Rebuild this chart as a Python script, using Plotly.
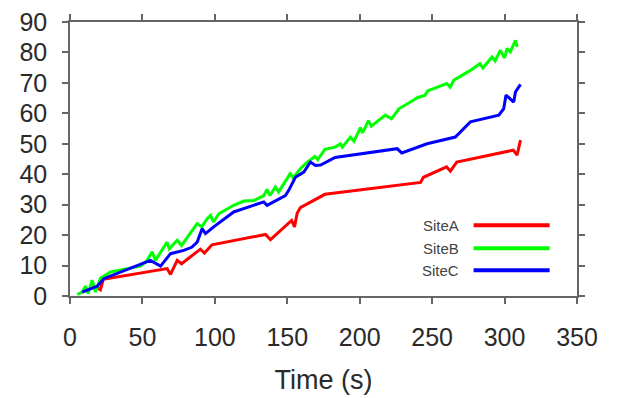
import plotly.graph_objects as go

# ---- data ----
site_a_t = [18, 21, 23, 67, 69.4, 74, 77, 90, 92.8, 98, 135, 138.4, 153, 155, 156.8, 159, 176, 242, 244, 260, 262.6, 267, 306, 308.6, 311]
site_a_y = [3, 2, 5.5, 9, 7.1, 11.7, 10.6, 15.4, 14.1, 16.8, 20.2, 18.5, 24.8, 22.7, 27.2, 29, 33.4, 37.3, 39, 42.4, 41, 44, 47.9, 46.3, 51.2]

site_b_t = [5, 8.4, 10.7, 12.5, 15.3, 17.6, 21, 28, 39.5, 48.6, 53, 56.7, 59, 64.7, 67, 68.5, 74, 77, 81, 84.3, 87.8, 91, 94.7, 97, 99, 102.7,
            113, 120, 127, 133.8, 136, 138, 141.8, 144, 148.7, 152, 154, 159, 163, 166, 169, 171, 176, 183, 186.7, 188,
            193.6, 196, 200.5, 202, 206, 208, 213, 217.7, 222, 227, 237, 240, 245, 247, 251, 260, 262.5, 265, 276.4, 283, 285,
            291.4, 293.5, 297, 300, 301.7, 304, 307.5, 308.6]
site_b_y = [0.5, 1.3, 3.2, 0.8, 5.2, 1.3, 5.8, 7.9, 9, 9.8, 11.5, 14.5, 11.7, 16.1, 17.7, 15.5, 18.3, 16.6, 19.4, 21.6, 23.8, 22.7, 25.4, 26.5, 24.3, 27,
            29.8, 31.2, 31.4, 33, 35, 33, 35.8, 34.2, 37.5, 40.2, 38.8, 41.8, 43.6, 44.6, 45.8, 44.8, 48.2, 48.9, 50, 48.9,
            52.2, 50.8, 55.3, 53.6, 57.6, 55.8, 57.7, 59.4, 58.2, 61.5, 64.3, 65.2, 65.9, 67.4, 68.1, 69.8, 68.6, 70.9, 74.1, 76.3, 74.9,
            78.5, 77.2, 80.7, 78.2, 81.3, 80.2, 84, 81.8]

site_c_t = [8.4, 18.8, 23.3, 55.5, 62.5, 69.4, 78.5, 84, 87.8, 91.2, 93.5, 99.2, 113, 133.8, 136, 148.7, 151, 155.6, 161.4, 166, 169.4, 173,
            183, 225.8, 229, 246.5, 266, 276.4, 296, 299.4, 301, 306.3, 307.5, 311]
site_c_y = [1.3, 3.2, 5.7, 11.7, 9.8, 13.9, 15, 16, 17.7, 22.1, 20.5, 22.7, 27.6, 30.9, 29.8, 33, 34.7, 39, 40.7, 44, 42.9, 43,
            45.5, 48.4, 47, 50, 52.2, 57.2, 59.4, 61.5, 66, 63.7, 67, 69.5]

series_names = ["SiteA", "SiteB", "SiteC"]
series_colors = ["#ff0000", "#00ff00", "#0000ff"]
x_ticks = [0, 50, 100, 150, 200, 250, 300, 350]
y_ticks = [0, 10, 20, 30, 40, 50, 60, 70, 80, 90]

fig = go.Figure()
for name, t, y, c in zip(series_names, [site_a_t, site_b_t, site_c_t], [site_a_y, site_b_y, site_c_y], series_colors):
    fig.add_trace(go.Scatter(x=t, y=y, mode="lines", name=name,
                             line=dict(color=c, width=3), showlegend=False))

axis_common = dict(showline=True, mirror="ticks", linecolor="#666666", linewidth=1.5,
                   ticks="outside", ticklen=6, tickwidth=1.5, tickcolor="#666666",
                   showgrid=False, zeroline=False, automargin=False, ticklabeloverflow="allow",
                   tickfont=dict(family="Liberation Sans, Arial", size=25, color="#2a2a2a"))

fig.update_xaxes(range=[0, 350], tickvals=x_ticks, ticklabelstandoff=12,
                 title=dict(text="Time (s)", font=dict(family="Liberation Sans, Arial", size=27, color="#2a2a2a"),
                            standoff=20),
                 **axis_common)
fig.update_yaxes(range=[0, 90], tickvals=y_ticks, ticklabelstandoff=10, **axis_common)

# legend drawn as text + line samples (text to the left of the sample)
leg_y = [0.258, 0.174, 0.094]
for name, c, yy in zip(series_names, series_colors, leg_y):
    fig.add_annotation(xref="paper", yref="paper", x=0.772, y=yy, text=name, showarrow=False,
                       xanchor="right", yanchor="middle",
                       font=dict(family="Liberation Sans, Arial", size=15, color="#444444"))
    fig.add_shape(type="line", xref="paper", yref="paper", x0=0.796, x1=0.946, y0=yy, y1=yy,
                  line=dict(color=c, width=4))

# page body has an 8px default margin, so the figure is 8px smaller and margins offset by 8
fig.update_layout(width=614, height=390, margin=dict(l=62, r=45, t=14, b=102),
                  plot_bgcolor="white", paper_bgcolor="white")

fig.write_html("out.html")
